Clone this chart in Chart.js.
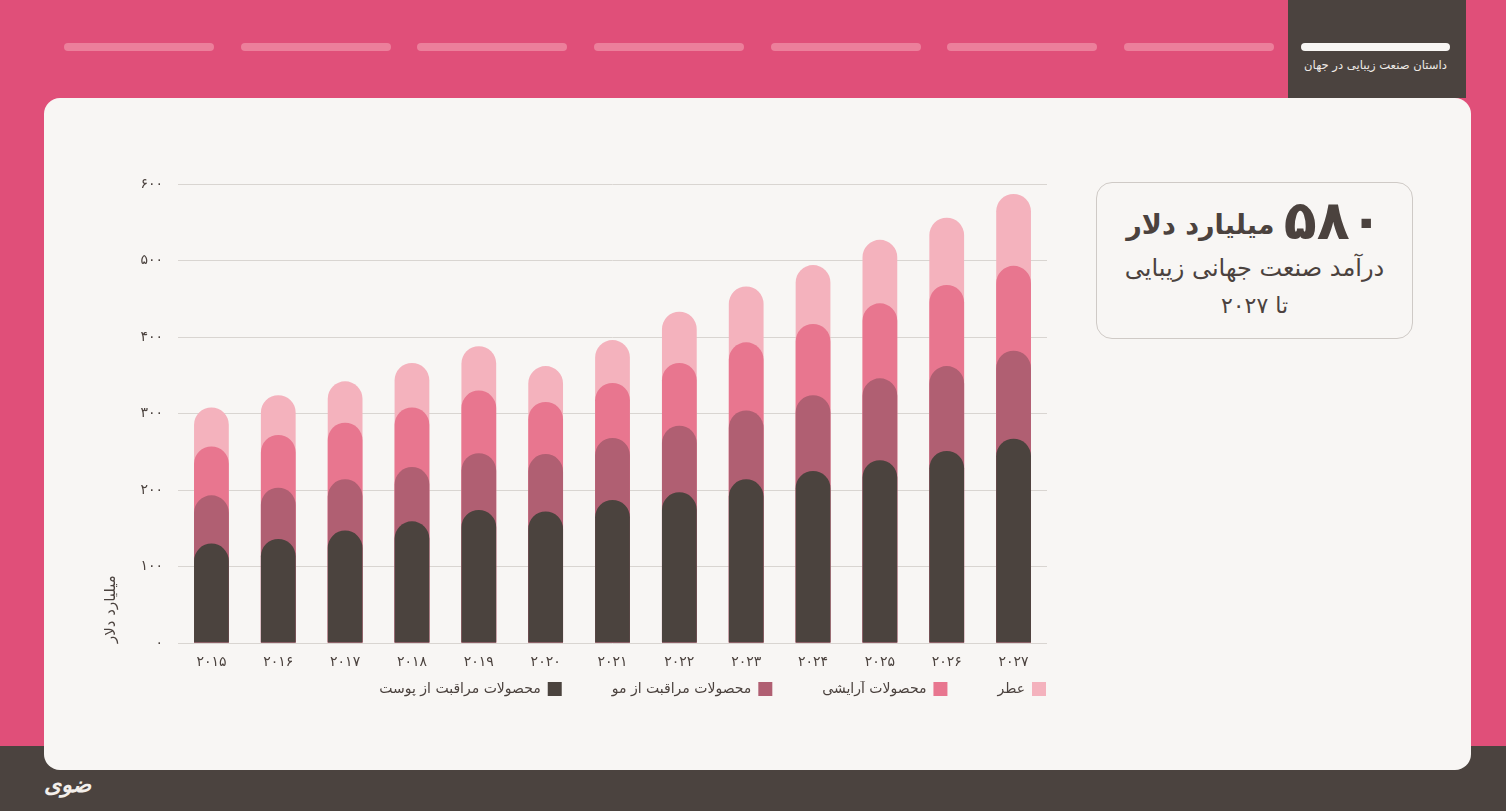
<!DOCTYPE html>
<html lang="fa">
<head>
<meta charset="utf-8">
<title>درآمد صنعت زیبایی</title>
<script src="https://cdn.jsdelivr.net/npm/chart.js@4.4.0/dist/chart.umd.min.js"></script>
<style>
  body { margin: 0; width: 1506px; height: 811px; overflow: hidden; background: #e04f79; font-family: 'DejaVu Sans', sans-serif; position: relative; }
  .footer { position: absolute; left: 0; top: 746px; width: 1506px; height: 65px; background: #4b433f; }
  .pill { position: absolute; top: 43px; width: 150px; height: 8px; border-radius: 4px; background: #ec7f9b; }
  .tab { position: absolute; left: 1288px; top: 0; width: 178px; height: 98px; background: #4b433f; }
  .tab .pill { background: #f8f6f4; left: 13px; width: 149px; }
  .tab span { position: absolute; top: 58px; left: 0; width: 175px; text-align: center; direction: rtl; color: #eeeae6; font-size: 11.6px; }
  .card { position: absolute; left: 44px; top: 98px; width: 1427px; height: 672px; border-radius: 16px; background: #f8f6f4; }
  .info { position: absolute; left: 1096px; top: 182px; width: 315px; height: 155px; border: 1px solid #cfcac6; border-radius: 16px; text-align: center; direction: rtl; color: #4b423e; }
  .info .l1 { margin-top: 10px; font-weight: bold; font-size: 27px; line-height: 56px; }
  .info .l1 b { font-size: 54px; vertical-align: -5px; }
  .info .l2 { font-size: 24px; line-height: 34px; margin-top: -2px; }
  .info .l3 { font-size: 22px; line-height: 36px; margin-top: 3px; }
  .logo { position: absolute; left: 44px; top: 772px; color: #f3efeb; font-size: 22px; font-weight: bold; font-style: italic; direction: rtl; }
  #wrap { position: absolute; left: 90px; top: 160px; width: 970px; height: 560px; }
</style>
</head>
<body>
<div class="footer"></div>
<div class="pill" style="left:64px"></div>
<div class="pill" style="left:241px"></div>
<div class="pill" style="left:417px"></div>
<div class="pill" style="left:594px"></div>
<div class="pill" style="left:771px"></div>
<div class="pill" style="left:947px"></div>
<div class="pill" style="left:1124px"></div>
<div class="tab"><div class="pill"></div><span>داستان صنعت زیبایی در جهان</span></div>
<div class="card"></div>
<div class="info">
  <div class="l1"><b>۵۸۰</b> میلیارد دلار</div>
  <div class="l2">درآمد صنعت جهانی زیبایی</div>
  <div class="l3">تا ۲۰۲۷</div>
</div>
<div class="logo">ضوی</div>
<div id="wrap"><canvas id="bar-chart"></canvas></div>

<script>
// سال ها (محور افقی)
const years = ['۲۰۱۵', '۲۰۱۶', '۲۰۱۷', '۲۰۱۸', '۲۰۱۹', '۲۰۲۰', '۲۰۲۱', '۲۰۲۲', '۲۰۲۳', '۲۰۲۴', '۲۰۲۵', '۲۰۲۶', '۲۰۲۷']

// میلیارد دلار، سهم هر بخش
const skinCare = [130, 136, 147, 159, 174, 172, 187, 197, 214, 225, 239, 251, 267]
const hairCare = [63, 67, 67, 71, 74, 75, 81, 87, 90, 99, 107, 111, 115]
const makeup = [64, 69, 74, 78, 82, 68, 72, 82, 89, 93, 98, 106, 111]
const perfume = [51, 52, 54, 58, 58, 47, 56, 67, 73, 77, 83, 88, 94]

const yTicks = [0, 100, 200, 300, 400, 500, 600]

const toFa = n => String(n).replace(/\d/g, d => '۰۱۲۳۴۵۶۷۸۹'[d])

// each segment is drawn as a bar from zero up to the running total,
// so that the rounded top of every segment sits over the one above it
const addUp = (...arrs) => arrs[0].map((_, i) => arrs.reduce((s, a) => s + a[i], 0))

const datasets = [
    { label: 'محصولات مراقبت از پوست', data: addUp(skinCare), backgroundColor: '#4b433e' },
    { label: 'محصولات مراقبت از مو', data: addUp(skinCare, hairCare), backgroundColor: '#b05f72' },
    { label: 'محصولات آرایشی', data: addUp(skinCare, hairCare, makeup), backgroundColor: '#e8768f' },
    { label: 'عطر', data: addUp(skinCare, hairCare, makeup, perfume), backgroundColor: '#f4b2bd' }
]

datasets.forEach(ds => {
    ds.grouped = false
    ds.barPercentage = 0.52
    ds.categoryPercentage = 1
    ds.borderRadius = 20
    ds.borderSkipped = 'start'
})

const textColor = '#4b423e'

new Chart(document.getElementById('bar-chart'), {
    type: 'bar',
    data: {
        labels: years,
        datasets: datasets
    },
    options: {
        responsive: true,
        maintainAspectRatio: false,
        animation: false,
        layout: {
            padding: { top: 24, right: 13, bottom: 14, left: 0 }
        },
        plugins: {
            tooltip: { enabled: false },
            legend: {
                position: 'bottom',
                align: 'start',
                rtl: true,
                textDirection: 'rtl',
                labels: {
                    boxWidth: 14,
                    boxHeight: 14,
                    padding: 1,
                    color: textColor,
                    font: { family: 'DejaVu Sans', size: 14 },
                    sort: (a, b) => b.datasetIndex - a.datasetIndex,
                    generateLabels: chart => {
                        const items = Chart.defaults.plugins.legend.labels.generateLabels(chart)
                        items.forEach(item => {
                            // fake gap between legend items
                            item.text = item.text + '\u2003\u2003\u2003\u2002'
                            item.lineWidth = 0
                        })
                        return items
                    }
                }
            }
        },
        scales: {
            x: {
                grid: { display: false },
                border: { display: false },
                ticks: {
                    color: textColor,
                    padding: 3,
                    font: { family: 'DejaVu Sans', size: 14 }
                },
                afterFit: scale => { scale.height = 38 }
            },
            y: {
                min: 0,
                max: 600,
                afterBuildTicks: scale => { scale.ticks = yTicks.map(v => ({ value: v })) },
                grid: { color: '#d9d5d1', drawTicks: false },
                border: { display: false },
                ticks: {
                    color: textColor,
                    padding: 15,
                    font: { family: 'DejaVu Sans', size: 14 },
                    callback: v => toFa(v)
                },
                title: {
                    display: true,
                    text: 'میلیارد دلار',
                    align: 'start',
                    color: textColor,
                    padding: { top: 12, bottom: 0 },
                    font: { family: 'DejaVu Sans', size: 15 }
                },
                afterFit: scale => { scale.width = 88 }
            }
        }
    }
})
</script>
</body>
</html>
